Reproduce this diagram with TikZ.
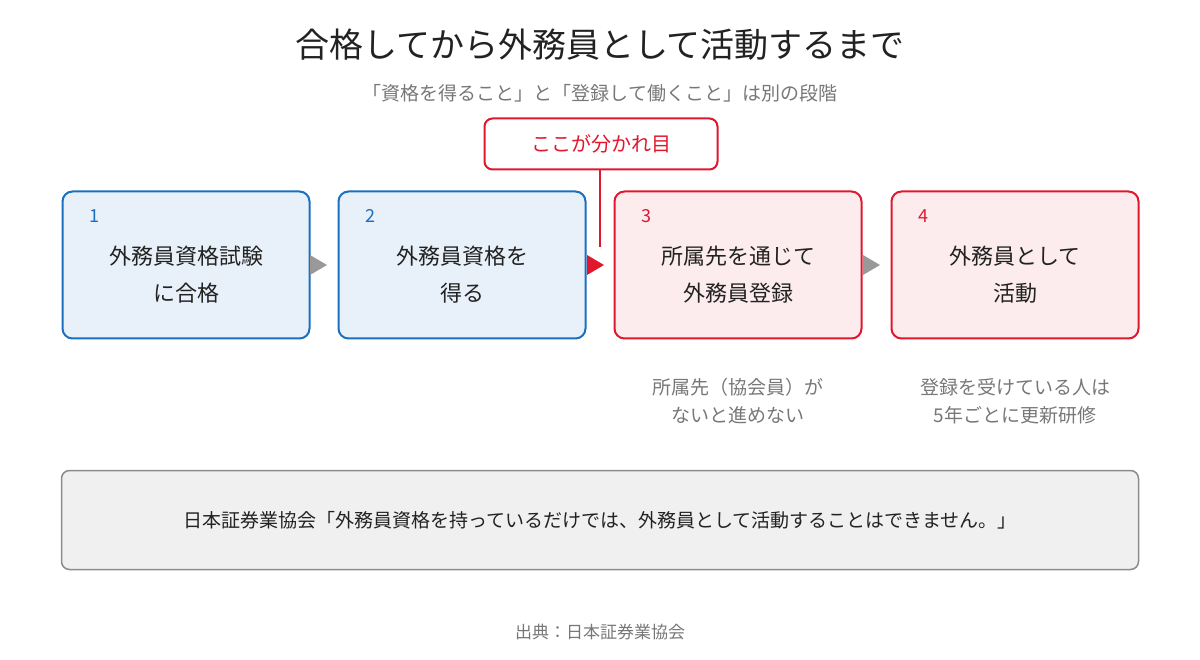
\documentclass[tikz,border=0pt]{standalone}
\usepackage{fontspec}
\setmainfont{Noto Sans CJK JP}
\definecolor{bluB}{HTML}{1A6FBF}
\definecolor{bluF}{HTML}{E8F1FA}
\definecolor{redB}{HTML}{E0182D}
\definecolor{redF}{HTML}{FDECEE}
\definecolor{txt}{HTML}{222222}
\definecolor{gry}{HTML}{777777}
\begin{document}
\begin{tikzpicture}[x=1pt,y=-1pt,
  stepbox/.style={draw,line width=2pt,rounded corners=10pt,minimum width=247pt,minimum height=147pt,inner sep=0pt},
  bstep/.style={stepbox,draw=bluB,fill=bluF},
  rstep/.style={stepbox,draw=redB,fill=redF},
  lbl/.style={font=\fontsize{22}{37}\selectfont,text=txt,align=center},
  num/.style={font=\fontsize{18}{20}\selectfont,anchor=west},
  note/.style={font=\fontsize{19}{28}\selectfont,text=gry,align=center}]
\useasboundingbox (0,0) rectangle (1200,660);
\node[font=\fontsize{34}{40}\selectfont,text=txt] (title) at (600,45) {合格してから外務員として活動するまで};
\node[font=\fontsize{19}{22}\selectfont,text=gry] (sub) at (600,93) {「資格を得ること」と「登録して働くこと」は別の段階};
\node[bstep] (b1) at (186,265) {};
\node[bstep] (b2) at (462,265) {};
\node[rstep] (b3) at (738,265) {};
\node[rstep] (b4) at (1015,265) {};
\node[num,text=bluB] at (86,216) {1};
\node[num,text=bluB] at (362,216) {2};
\node[num,text=redB] at (638,216) {3};
\node[num,text=redB] at (915,216) {4};
\node[lbl] at (186,275) {外務員資格試験\\に合格};
\node[lbl] at (462,275) {外務員資格を\\得る};
\node[lbl] at (738,275) {所属先を通じて\\外務員登録};
\node[lbl] at (1015,275) {外務員として\\活動};
\fill[gray!80] (310,255) -- (327,265) -- (310,275) -- cycle;
\fill[redB] (587,255) -- (604,265) -- (587,275) -- cycle;
\fill[gray!80] (863,255) -- (880,265) -- (863,275) -- cycle;
\node[draw=redB,fill=white,line width=2pt,rounded corners=8pt,minimum width=233pt,minimum height=51pt,font=\fontsize{20}{22}\selectfont,text=redB] (call) at (601,144) {ここが分かれ目};
\coordinate (ce) at (600,247);
\draw[redB,line width=2pt] (call.south -| ce) -- (ce);
\node[note] (n3) at (738,401) {所属先（協会員）が\\ないと進めない};
\node[note] (n4) at (1015,401) {登録を受けている人は\\5年ごとに更新研修};
\node[draw=gray!90,fill=gray!12,line width=1.5pt,rounded corners=8pt,minimum width=1077pt,minimum height=99pt,font=\fontsize{19}{22}\selectfont,text=txt] (q) at (600,520) {日本証券業協会「外務員資格を持っているだけでは、外務員として活動することはできません。」};
\node[font=\fontsize{17}{20}\selectfont,text=gry] (src) at (600,632) {出典：日本証券業協会};
\end{tikzpicture}
\end{document}
